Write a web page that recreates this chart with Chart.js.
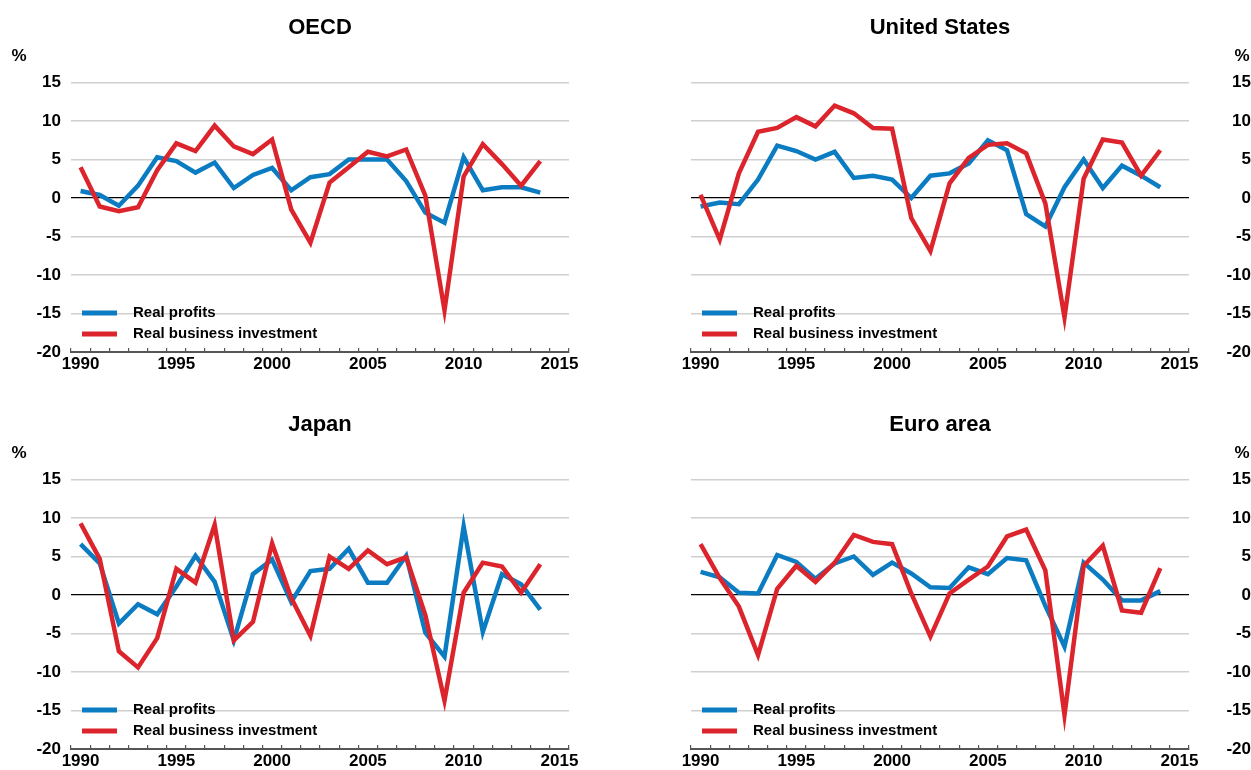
<!DOCTYPE html>
<html>
<head>
<meta charset="utf-8">
<script src="https://cdn.jsdelivr.net/npm/chart.js@4/dist/chart.umd.min.js"></script>
<style>
  html, body { margin: 0; padding: 0; background: #fff; overflow: hidden; }
  .panel { position: absolute; }
</style>
</head>
<body>
<div class="panel" style="left:0;top:0"><canvas id="oecd" width="620" height="376"></canvas></div>
<div class="panel" style="left:620px;top:0"><canvas id="us" width="631" height="376"></canvas></div>
<div class="panel" style="left:0;top:397px"><canvas id="japan" width="620" height="376"></canvas></div>
<div class="panel" style="left:620px;top:397px"><canvas id="euro" width="631" height="376"></canvas></div>
<script>
// DATA
const years = ['1990','1991','1992','1993','1994','1995','1996','1997','1998','1999','2000','2001','2002',
  '2003','2004','2005','2006','2007','2008','2009','2010','2011','2012','2013','2014','2015'];
const yTicks = [-20, -15, -10, -5, 0, 5, 10, 15];

const oecdProfits = [0.9, 0.4, -1.0, 1.6, 5.3, 4.8, 3.3, 4.6, 1.3, 3.0, 3.9, 1.0, 2.7, 3.1, 5.0, 5.0, 5.0, 2.2, -1.9, -3.2, 5.3, 1.0, 1.4, 1.4, 0.7];
const oecdInvestment = [4.0, -1.1, -1.7, -1.2, 3.6, 7.1, 6.1, 9.4, 6.7, 5.7, 7.6, -1.5, -5.8, 2.0, 4.0, 6.0, 5.4, 6.3, 0.3, -14.6, 2.8, 7.0, 4.4, 1.6, 4.8];

const usProfits = [-1.1, -0.6, -0.8, 2.4, 6.8, 6.1, 5.0, 6.0, 2.6, 2.9, 2.4, 0.0, 2.9, 3.2, 4.5, 7.5, 6.2, -2.1, -3.7, 1.4, 5.0, 1.3, 4.2, 2.9, 1.4];
const usInvestment = [0.4, -5.4, 3.2, 8.6, 9.1, 10.5, 9.3, 12.0, 11.0, 9.1, 9.0, -2.6, -6.9, 1.9, 5.2, 6.9, 7.1, 5.8, -0.7, -15.5, 2.5, 7.6, 7.2, 2.9, 6.2];

const japanProfits = [6.6, 4.1, -3.7, -1.2, -2.5, 1.1, 5.1, 1.7, -5.9, 2.7, 4.6, -0.9, 3.1, 3.4, 6.0, 1.6, 1.6, 5.1, -4.9, -8.0, 8.9, -4.8, 2.7, 1.4, -1.9];
const japanInvestment = [9.3, 4.7, -7.3, -9.4, -5.6, 3.4, 1.6, 9.1, -5.9, -3.5, 6.7, -0.4, -5.3, 5.0, 3.4, 5.8, 4.0, 4.9, -2.6, -13.7, 0.3, 4.2, 3.7, 0.3, 4.0];

const euroProfits = [3.0, 2.3, 0.3, 0.2, 5.2, 4.3, 2.1, 4.1, 5.0, 2.6, 4.2, 2.8, 1.0, 0.9, 3.6, 2.7, 4.8, 4.5, -1.4, -6.7, 4.2, 2.0, -0.7, -0.7, 0.5];
const euroInvestment = [6.6, 2.2, -1.5, -7.8, 0.8, 3.8, 1.7, 4.2, 7.8, 6.9, 6.6, 0.2, -5.4, 0.2, 2.0, 3.7, 7.6, 8.5, 3.2, -15.6, 3.8, 6.4, -2.0, -2.3, 3.5];

const BLUE = '#0b7cc1';
const RED = '#dc242c';
const FONT = '"Liberation Sans", Arial, sans-serif';

// title, % sign and the legend inside the plot
const panelText = {
  id: 'panelText',
  afterDraw(chart, args, opts) {
    const { ctx, chartArea } = chart;
    ctx.save();
    ctx.fillStyle = '#000';
    ctx.textBaseline = 'middle';
    ctx.textAlign = 'center';
    ctx.font = 'bold 22px ' + FONT;
    ctx.fillText(opts.title, (chartArea.left + chartArea.right) / 2, chartArea.top - 54.5);
    ctx.font = 'bold 17px ' + FONT;
    const px = opts.side === 'right' ? chartArea.right + 53 : chartArea.left - 52;
    ctx.fillText('%', px, chartArea.top - 26);

    // legend: profits first, then investment
    const items = [chart.data.datasets[1], chart.data.datasets[0]];
    ctx.textAlign = 'left';
    ctx.font = 'bold 15px ' + FONT;
    items.forEach((ds, i) => {
      const y = chartArea.bottom - 39 + i * 21;
      ctx.strokeStyle = ds.borderColor;
      ctx.lineWidth = 5;
      ctx.beginPath();
      ctx.moveTo(chartArea.left + 11, y);
      ctx.lineTo(chartArea.left + 46, y);
      ctx.stroke();
      ctx.fillStyle = '#000';
      ctx.fillText(ds.label, chartArea.left + 62, y);
    });
    ctx.restore();
  }
};

function makePanel(id, title, side, profits, investment) {
  const right = side === 'right';
  return new Chart(document.getElementById(id), {
    type: 'line',
    data: {
      labels: years,
      datasets: [
        { label: 'Real business investment', data: investment, borderColor: RED, borderWidth: 4.5, pointRadius: 0, tension: 0, order: 0 },
        { label: 'Real profits', data: profits, borderColor: BLUE, borderWidth: 4.5, pointRadius: 0, tension: 0, order: 1 }
      ]
    },
    options: {
      responsive: false,
      animation: false,
      layout: { padding: { top: 82.5, left: right ? 71 : 0, right: right ? 0 : 51, bottom: 0 } },
      plugins: {
        legend: { display: false },
        tooltip: { enabled: false },
        panelText: { title: title, side: side }
      },
      scales: {
        x: {
          type: 'category',
          offset: true,
          grid: { offset: true, drawOnChartArea: false, drawTicks: true, tickLength: -4, color: '#555', lineWidth: 1.2 },
          border: { display: true, color: '#555', width: 2 },
          ticks: {
            autoSkip: false,
            maxRotation: 0,
            padding: 6,
            color: '#000',
            font: { family: FONT, size: 17, weight: 'bold' },
            callback: (v, i) => (+years[i] % 5 === 0 ? years[i] : '')
          },
          afterFit: s => { s.height = 24; }
        },
        y: {
          position: side,
          min: yTicks[0],
          max: yTicks[yTicks.length - 1],
          afterBuildTicks: s => { s.ticks = yTicks.map(v => ({ value: v })); },
          grid: {
            drawTicks: false,
            color: c => c.tick.value === 0 ? '#000' : (c.tick.value === -20 ? 'rgba(0,0,0,0)' : '#cfcfcf'),
            lineWidth: c => c.tick.value === 0 ? 1.2 : 1.4
          },
          border: { display: false },
          ticks: {
            padding: right ? 11 : 10,
            crossAlign: right ? 'far' : 'near',
            color: '#000',
            font: { family: FONT, size: 17, weight: 'bold' }
          },
          afterFit: s => { s.width = right ? 62 : 71; }
        }
      }
    },
    plugins: [panelText]
  });
}

makePanel('oecd', 'OECD', 'left', oecdProfits, oecdInvestment);
makePanel('us', 'United States', 'right', usProfits, usInvestment);
makePanel('japan', 'Japan', 'left', japanProfits, japanInvestment);
makePanel('euro', 'Euro area', 'right', euroProfits, euroInvestment);
</script>
</body>
</html>
